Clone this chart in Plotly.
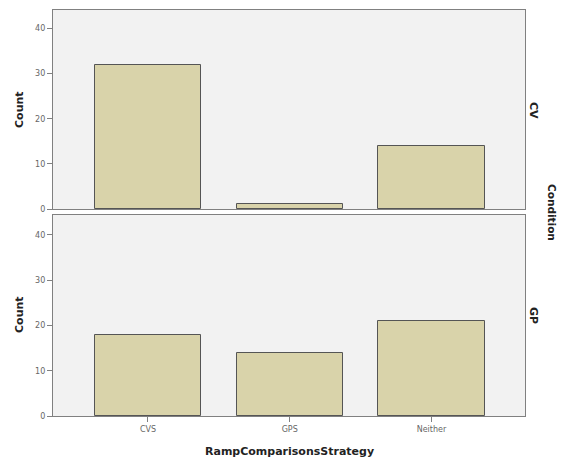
import plotly.graph_objects as go
from plotly.subplots import make_subplots

categories = ["CVS", "GPS", "Neither"]
cv_counts = [32, 1, 14]
gp_counts = [18, 14, 21]
panel_labels = ["CV", "GP"]
y_ticks = [0, 10, 20, 30, 40]

# page body adds an 8px offset; work in page pixel coordinates
OFF = 8
W, H = 567 - 2 * OFF, 462 - OFF
left, right, top, bottom = 53, 525, 10, 416
ml, mr, mt, mb = left - OFF, (W + OFF) - right, top - OFF, (H + OFF) - bottom
ph = bottom - top
pw = right - left

def yfrac(py):
    return (bottom - py) / ph

def xfrac(px):
    return (px - left) / pw

fig = make_subplots(rows=2, cols=1, shared_xaxes=True, vertical_spacing=0.01)
bar_style = dict(marker=dict(color="#d9d3aa", line=dict(color="#555555", width=1)),
                 width=0.75, showlegend=False, hoverinfo="skip")
fig.add_trace(go.Bar(x=categories, y=cv_counts, **bar_style), row=1, col=1)
fig.add_trace(go.Bar(x=categories, y=gp_counts, **bar_style), row=2, col=1)

tickfont = dict(family="DejaVu Sans", size=8, color="#666666")
axis_common = dict(showline=True, linecolor="#808080", linewidth=1.3, mirror=True,
                   showgrid=False, zeroline=False)
fig.update_layout(
    width=W, height=H, margin=dict(l=ml, r=mr, t=mt, b=mb, pad=0),
    paper_bgcolor="white", plot_bgcolor="#f2f2f2", bargap=0,
    xaxis=dict(domain=[0, 1], range=[-0.67, 2.66], showticklabels=False, ticks="",
               **axis_common),
    xaxis2=dict(domain=[0, 1], range=[-0.67, 2.66], ticks="outside", ticklen=5,
                tickcolor="#808080", tickfont=tickfont, **axis_common),
    yaxis=dict(domain=[yfrac(209), 1], range=[0, 44.1], tickvals=y_ticks,
               ticks="outside", ticklen=5, tickcolor="#808080", tickfont=tickfont,
               **axis_common),
    yaxis2=dict(domain=[0, yfrac(215)], range=[0, 44.4], tickvals=y_ticks,
                ticks="outside", ticklen=5, tickcolor="#808080", tickfont=tickfont,
                **axis_common),
)

bold = dict(family="DejaVu Sans", size=11, color="#222222")

def note(text, px, py, angle=0, size=11):
    f = dict(bold)
    f["size"] = size
    return dict(text=text, x=xfrac(px), y=yfrac(py), xref="paper", yref="paper",
                xanchor="center", yanchor="middle", textangle=angle,
                showarrow=False, font=f)

ann = []
for label, cy in zip(panel_labels, [110, 315]):
    ann.append(note("<b>Count</b>", 19, cy, -90))
    ann.append(note("<b>%s</b>" % label, 534, cy, 90))
ann.append(note("<b>Condition</b>", 552, 212, 90, 10.5))
ann.append(note("<b>RampComparisonsStrategy</b>", 289, 451))
fig.update_layout(annotations=ann)

fig.write_html("out.html")
